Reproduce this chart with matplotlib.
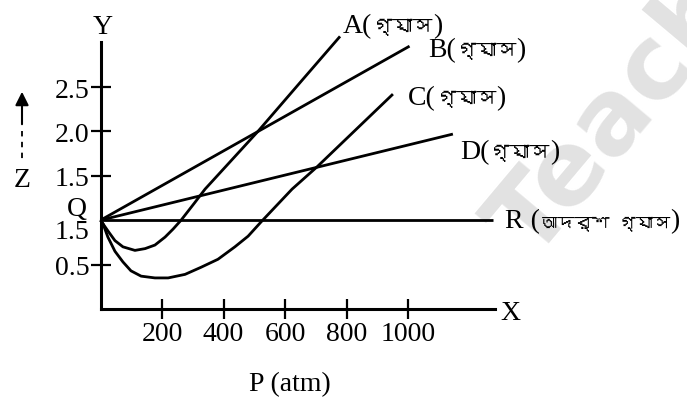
import matplotlib
matplotlib.use("Agg")
import matplotlib.pyplot as plt
from matplotlib import font_manager as fm
from matplotlib.ft2font import FT2Font

# ---- data ----
A_P = [0, 24, 47, 73, 112, 145, 177, 210, 236, 262, 307, 340, 512, 659, 779]
A_Z = [1.00, 0.88, 0.77, 0.70, 0.66, 0.68, 0.72, 0.81, 0.90, 1.00, 1.20, 1.35, 2.00, 2.59, 3.07]
C_P = [0, 8, 24, 47, 73, 99, 132, 177, 220, 275, 327, 382, 437, 480, 522, 623, 704, 951]
C_Z = [1.00, 0.96, 0.81, 0.65, 0.53, 0.43, 0.37, 0.35, 0.35, 0.39, 0.47, 0.56, 0.70, 0.82,
       0.98, 1.35, 1.60, 2.42]
B_P = [0, 1005]
B_Z = [1.00, 2.96]
D_P = [0, 1146]
D_Z = [1.00, 1.97]
R_P = [0, 1276]
R_Z = [1.00, 1.00]
x_ticks = [200, 400, 600, 800, 1000]
y_ticks = [0.5, 1.5, 2.0, 2.5]
y_ticklabels = ["0.5", "1.5", "2.0", "2.5"]
gas = "গ্যাস"
ideal_gas = "আদর্শ গ্যাস"

# ---- find a font with Bengali glyphs, if any ----
beng = None
for f in fm.fontManager.ttflist:
    try:
        cm = FT2Font(f.fname).get_charmap()
        if 0x0997 in cm and 0x09CD in cm and 0x0986 in cm:
            beng = f.name
            break
    except Exception:
        pass
serif = ["Liberation Serif", "DejaVu Serif"]
bfam = ([beng] if beng else []) + ["DejaVu Sans"]
plt.rcParams['font.family'] = serif + bfam

W, H = 687, 410
fig = plt.figure(figsize=(W / 100, H / 100), dpi=100)

# pixel layout: P=0 at x=100.5, 0.3075 px/atm; Z=0 at y=310, 88.8 px/unit
x0, sx = 100.5, 0.3075
y0, sy = 310.0, 88.8
left_px, right_px, bot_px, top_px = x0, 495.0, y0, 5.0
ax = fig.add_axes([left_px / W, 1 - bot_px / H, (right_px - left_px) / W, (bot_px - top_px) / H])
ax.set_xlim(0, (right_px - x0) / sx)
ax.set_ylim(0, (y0 - top_px) / sy)
ax.patch.set_alpha(0)

lw = 2.0
for P, Z in [(A_P, A_Z), (B_P, B_Z), (C_P, C_Z), (D_P, D_Z), (R_P, R_Z)]:
    ax.plot(P, Z, color='black', lw=lw, clip_on=False, solid_capstyle='butt',
            solid_joinstyle='round')

for s in ['top', 'right']:
    ax.spines[s].set_visible(False)
ax.spines['left'].set_bounds(0, (y0 - 43) / sy)
ax.spines['bottom'].set_bounds(0, (right_px - x0) / sx)
ax.spines['left'].set_linewidth(2.2)
ax.spines['bottom'].set_linewidth(2.2)

ax.set_xticks(x_ticks)
ax.set_xticklabels([str(t) for t in x_ticks])
ax.set_yticks(y_ticks)
ax.set_yticklabels(y_ticklabels)
ax.tick_params(direction='inout', length=14, width=1.6, labelsize=20, pad=2)
ax.tick_params(axis='y', pad=1)

fs = 20
def px(xp, yp):
    return xp / W, 1 - yp / H

fig.text(*px(103, 28), "Y", fontsize=fs, ha='center', va='center')
fig.text(*px(510, 314), "X", fontsize=fs, ha='center', va='center')
fig.text(*px(290, 385), "P (atm)", fontsize=fs, ha='center', va='center')
fig.text(*px(22, 181), "Z", fontsize=fs, ha='center', va='center')
fig.text(*px(77, 210), "Q", fontsize=fs, ha='center', va='center')
fig.text(*px(72, 233), "1.5", fontsize=fs, ha='center', va='center')

# arrow for Z
ax.annotate("", xy=px(22, 90), xycoords='figure fraction', xytext=px(22, 128),
            textcoords='figure fraction',
            arrowprops=dict(arrowstyle='-|>', color='black', lw=1.5, mutation_scale=20))
fig.add_artist(plt.Line2D([22 / W, 22 / W], [1 - 132 / H, 1 - 162 / H], color='black',
                          lw=1.3, ls=(0, (3, 3))))

renderer = fig.canvas.get_renderer()
def label(xp, yp_base, pieces):
    """pieces: list of (text, size, family)"""
    x = xp
    for txt, size, fam in pieces:
        t = fig.text(*px(x, yp_base), txt, fontsize=size, family=fam,
                     ha='left', va='baseline')
        bb = t.get_window_extent(renderer)
        x += bb.width

bs = 14.5
label(343, 33, [("A(", fs, serif), (gas, bs, bfam), (")", fs, serif)])
label(428, 57, [("B(", fs, serif), (gas, bs, bfam), (")", fs, serif)])
label(408, 105, [("C(", fs, serif), (gas, bs, bfam), (")", fs, serif)])
label(460, 159, [("D(", fs, serif), (gas, bs, bfam), (")", fs, serif)])
label(505, 228, [("R (", fs, serif), (ideal_gas, 12.5, bfam), (")", fs, serif)])

# watermark (behind everything)
fig.text(*px(533, 262), "Teach", fontsize=74, fontweight='bold', family='DejaVu Sans',
         color='#e2e2e2', rotation=50, rotation_mode='anchor', ha='left', va='baseline',
         zorder=-5)

fig.savefig("out.png", dpi=100)
